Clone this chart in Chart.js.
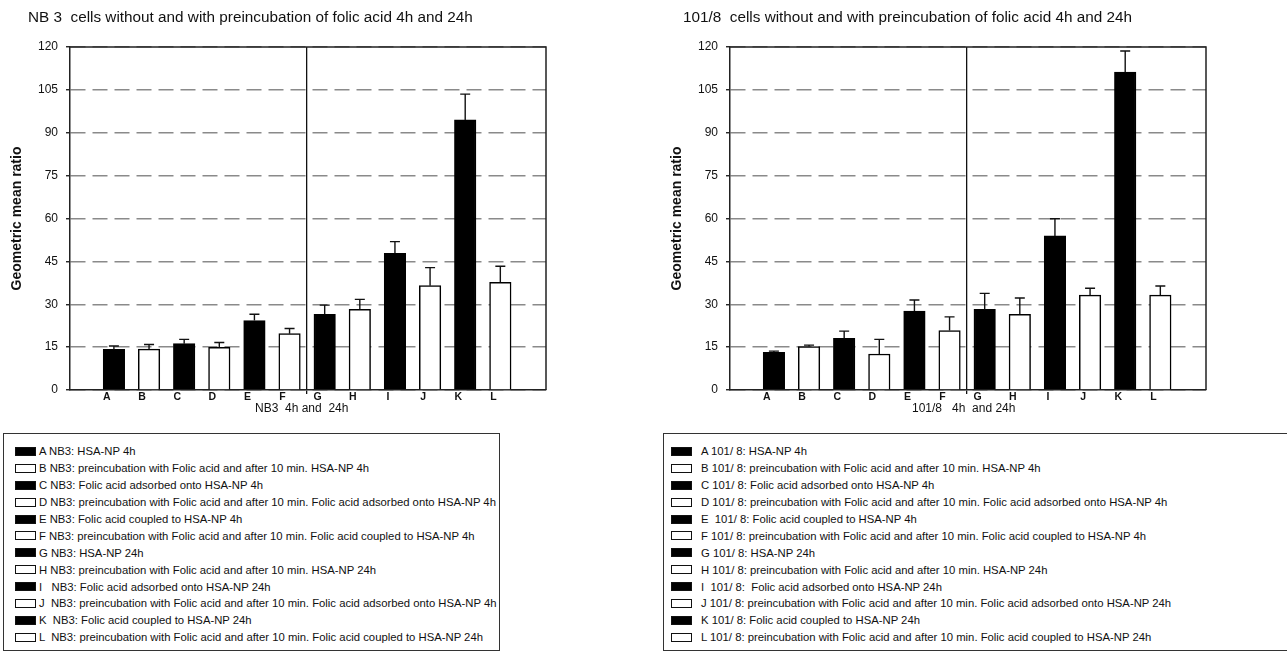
<!DOCTYPE html>
<html>
<head>
<meta charset="utf-8">
<title>Geometric mean ratio - NB3 and 101/8 cells</title>
<script src="https://cdn.jsdelivr.net/npm/chart.js@4.4.1/dist/chart.umd.min.js"></script>
<style>
  html, body { margin:0; padding:0; background:#fff; width:1287px; height:653px; overflow:hidden;
    font-family:"Liberation Sans", Arial, sans-serif; }
  canvas { position:absolute; top:0; }
  .legend { position:absolute; top:433px; height:218px; border:1px solid #333; box-sizing:border-box;
    padding-top:9px; font-size:11.3px; color:#111; }
  .legend .row { height:16.9px; white-space:pre; display:flex; align-items:center; }
  .legend .sw { width:21px; height:9px; border:1px solid #111; box-sizing:border-box; flex:none; }
  #legNB3 { left:3px; width:497px; padding-left:11px; }
  #legNB3 .sw { margin-right:3px; }
  #leg101 { left:663px; width:640px; padding-left:7px; }
  #leg101 .sw { margin-right:9px; }
</style>
</head>
<body>
<canvas id="chartNB3" width="600" height="420" style="left:0"></canvas>
<canvas id="chart101" width="600" height="420" style="left:660px"></canvas>
<div class="legend" id="legNB3"></div>
<div class="legend" id="leg101"></div>
<script>
// groups A-F = 4h, G-L = 24h
const letters = ['A', 'B', 'C', 'D', 'E', 'F', 'G', 'H', 'I', 'J', 'K', 'L'];

// NB3 cells
const nb3Values = [14.2, 14.3, 16.2, 14.9, 24.3, 19.7, 26.5, 28.2, 47.8, 36.5, 94.5, 37.7];
const nb3Errors = [1.2, 1.6, 1.5, 1.7, 2.2, 1.8, 3.2, 3.5, 4.1, 6.3, 9.0, 5.6];

// 101/8 cells
const r101Values = [13.2, 15.2, 18.1, 12.6, 27.6, 20.8, 28.2, 26.5, 53.9, 33.2, 111.2, 33.2];
const r101Errors = [0.4, 0.5, 2.5, 5.1, 3.9, 4.8, 5.6, 5.7, 6.0, 2.4, 7.4, 3.2];

const yTicks = { min: 0, max: 120, step: 15 };

const nb3Legend = [
  'A NB3: HSA-NP 4h',
  'B NB3: preincubation with Folic acid and after 10 min. HSA-NP 4h',
  'C NB3: Folic acid adsorbed onto HSA-NP 4h',
  'D NB3: preincubation with Folic acid and after 10 min. Folic acid adsorbed onto HSA-NP 4h',
  'E NB3: Folic acid coupled to HSA-NP 4h',
  'F NB3: preincubation with Folic acid and after 10 min. Folic acid coupled to HSA-NP 4h',
  'G NB3: HSA-NP 24h',
  'H NB3: preincubation with Folic acid and after 10 min. HSA-NP 24h',
  'I   NB3: Folic acid adsorbed onto HSA-NP 24h',
  'J  NB3: preincubation with Folic acid and after 10 min. Folic acid adsorbed onto HSA-NP 4h',
  'K  NB3: Folic acid coupled to HSA-NP 24h',
  'L  NB3: preincubation with Folic acid and after 10 min. Folic acid coupled to HSA-NP 24h'
];
const r101Legend = [
  'A 101/ 8: HSA-NP 4h',
  'B 101/ 8: preincubation with Folic acid and after 10 min. HSA-NP 4h',
  'C 101/ 8: Folic acid adsorbed onto HSA-NP 4h',
  'D 101/ 8: preincubation with Folic acid and after 10 min. Folic acid adsorbed onto HSA-NP 4h',
  'E  101/ 8: Folic acid coupled to HSA-NP 4h',
  'F 101/ 8: preincubation with Folic acid and after 10 min. Folic acid coupled to HSA-NP 4h',
  'G 101/ 8: HSA-NP 24h',
  'H 101/ 8: preincubation with Folic acid and after 10 min. HSA-NP 24h',
  'I  101/ 8:  Folic acid adsorbed onto HSA-NP 24h',
  'J 101/ 8: preincubation with Folic acid and after 10 min. Folic acid adsorbed onto HSA-NP 24h',
  'K 101/ 8: Folic acid coupled to HSA-NP 24h',
  'L 101/ 8: preincubation with Folic acid and after 10 min. Folic acid coupled to HSA-NP 24h'
];

const FONT = '"Liberation Sans", Arial, sans-serif';
Chart.defaults.font.family = FONT;
Chart.defaults.color = '#111';

const DIVIDER = 5.5; // between F (4h) and G (24h)

// error bars on top of each bar
const errorBars = {
  id: 'errorBars',
  afterDatasetsDraw(chart) {
    const ctx = chart.ctx, y = chart.scales.y;
    const ds = chart.data.datasets[0];
    const meta = chart.getDatasetMeta(0);
    ctx.save();
    ctx.strokeStyle = '#111';
    ctx.lineWidth = 1.4;
    meta.data.forEach((bar, i) => {
      const top = y.getPixelForValue(ds.data[i].y + ds.errors[i]);
      ctx.beginPath();
      ctx.moveTo(bar.x, bar.y); ctx.lineTo(bar.x, top);
      ctx.moveTo(bar.x - 5, top); ctx.lineTo(bar.x + 5, top);
      ctx.stroke();
    });
    ctx.restore();
  }
};

// top/right frame plus chart title and x caption
const frame = {
  id: 'frame',
  afterDraw(chart, args, opts) {
    const ctx = chart.ctx, a = chart.chartArea;
    ctx.save();
    ctx.strokeStyle = '#222';
    ctx.lineWidth = 1.5;
    ctx.beginPath();
    ctx.moveTo(a.left, a.top); ctx.lineTo(a.right, a.top); ctx.lineTo(a.right, a.bottom);
    ctx.stroke();
    ctx.fillStyle = '#111';
    ctx.textAlign = 'left';
    ctx.textBaseline = 'alphabetic';
    ctx.font = '15.3px ' + FONT;
    ctx.fillText(opts.title, opts.titleX, 21.5);
    ctx.font = '12px ' + FONT;
    ctx.fillText(opts.caption, opts.captionX, 412);
    ctx.restore();
  }
};

function makeChart(id, values, errors, title, titleX, caption, captionX) {
  return new Chart(document.getElementById(id), {
    type: 'bar',
    data: {
      datasets: [{
        data: values.map((v, i) => ({ x: i, y: v })),
        errors: errors,
        backgroundColor: c => c.dataIndex % 2 ? '#fff' : '#000',
        borderColor: '#000',
        borderWidth: 1.5,
        barThickness: 21.5
      }]
    },
    options: {
      responsive: false,
      animation: false,
      layout: { padding: { left: 0, right: 54, top: 47, bottom: 0 } },
      plugins: {
        legend: { display: false },
        tooltip: { enabled: false },
        frame: { title, titleX, caption, captionX }
      },
      scales: {
        x: {
          type: 'linear',
          offset: false,
          min: -1.25,
          max: 12.3,
          afterBuildTicks: axis => {
            axis.ticks = letters.map((_, i) => ({ value: i }))
              .concat([{ value: DIVIDER }])
              .sort((p, q) => p.value - q.value);
          },
          afterFit: axis => { axis.height = 30; },
          ticks: {
            autoSkip: false,
            maxRotation: 0,
            padding: -3,
            labelOffset: -7,
            font: { size: 10.5, weight: 'bold' },
            callback: v => Number.isInteger(v) ? letters[v] : ''
          },
          grid: {
            offset: false,
            color: c => c.tick && c.tick.value === DIVIDER ? '#111' : 'rgba(0,0,0,0)',
            lineWidth: 1.3,
            tickLength: 4
          },
          border: { color: '#222', width: 1.5 }
        },
        y: {
          min: yTicks.min,
          max: yTicks.max,
          afterFit: axis => { axis.width = 70; },
          ticks: { stepSize: yTicks.step, padding: 8, font: { size: 12 } },
          title: {
            display: true,
            text: 'Geometric mean ratio',
            font: { size: 14, weight: 'bold' },
            padding: { top: 8.6, bottom: 0 }
          },
          grid: { color: '#8a8a8a', lineWidth: 1.5, tickLength: 4, tickColor: '#111', tickWidth: 1.3 },
          border: { color: '#222', width: 1.5, dash: [15, 7] }
        }
      }
    },
    plugins: [errorBars, frame]
  });
}

makeChart('chartNB3', nb3Values, nb3Errors,
  'NB 3  cells without and with preincubation of folic acid 4h and 24h', 28,
  'NB3  4h and  24h', 255);
makeChart('chart101', r101Values, r101Errors,
  '101/8  cells without and with preincubation of folic acid 4h and 24h', 23,
  '101/8   4h  and 24h', 252);

function buildLegend(id, items) {
  const box = document.getElementById(id);
  items.forEach((text, i) => {
    const row = document.createElement('div');
    row.className = 'row';
    const sw = document.createElement('span');
    sw.className = 'sw';
    sw.style.background = i % 2 ? '#fff' : '#000';
    const label = document.createElement('span');
    label.textContent = text;
    row.append(sw, label);
    box.append(row);
  });
}
buildLegend('legNB3', nb3Legend);
buildLegend('leg101', r101Legend);
</script>
</body>
</html>
